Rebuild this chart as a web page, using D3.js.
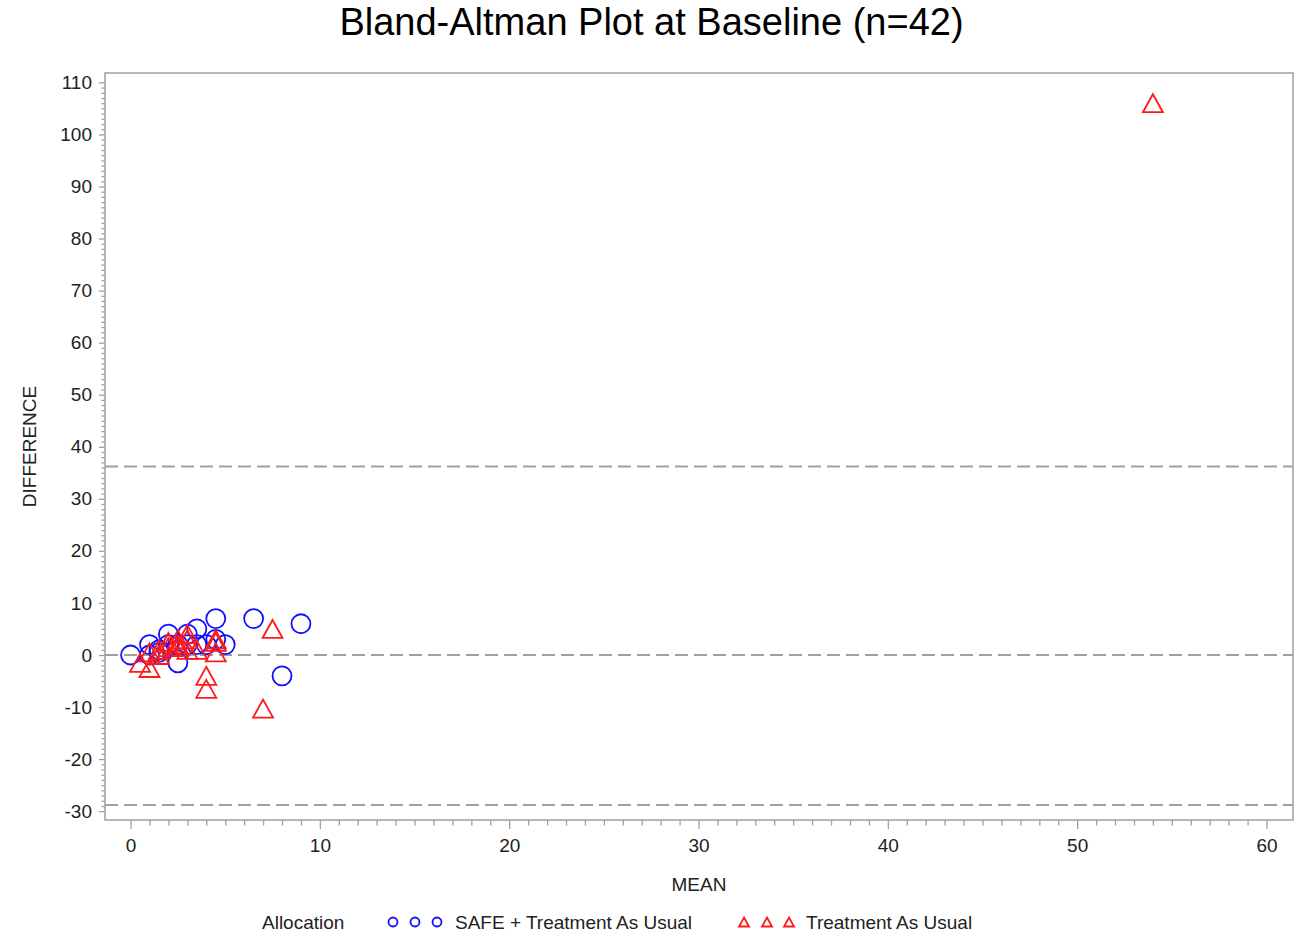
<!DOCTYPE html>
<html>
<head>
<meta charset="utf-8">
<title>Bland-Altman Plot at Baseline</title>
<script src="https://cdn.jsdelivr.net/npm/d3@7"></script>
<style>
  body { margin: 0; background: #fff; }
  svg { font-family: "Liberation Sans", Arial, sans-serif; }
</style>
</head>
<body>
<svg></svg>
<script>

// SAFE + Treatment As Usual (circles)
var safeMean = [0, 1, 1, 1.5, 1.5, 2, 2, 2.5, 2.5, 3, 3, 3.5, 3.5, 4, 4.5, 4.5, 5, 6.5, 8, 9];
var safeDiff = [0, 2, 0, 1, 0.5, 4, 2, -1.5, 2, 4, 2, 5, 2, 2, 7, 3, 2, 7, -4, 6];

// Treatment As Usual (triangles)
var tauMean = [0.5, 1, 1, 1.5, 1.5, 2, 2, 2.5, 2.5, 2.5, 3, 3, 3, 3.5, 4, 4, 4.5, 4.5, 4.5, 7, 7.5, 54];
var tauDiff = [-1.5, -2.5, 0.5, 0, 1, 1.5, 2.5, 1.5, 3, 2, 4, 3, 1, 1, -4, -6.5, 3, 2.5, 0.5, -10.3, 5, 106];

// reference lines (upper limit, zero, lower limit)
var refLines = [36.2, 0, -28.8];

var xTicks = [0, 10, 20, 30, 40, 50, 60];
var yTicks = [-30, -20, -10, 0, 10, 20, 30, 40, 50, 60, 70, 80, 90, 100, 110];

var width = 1303, height = 945;
var pLeft = 105, pRight = 1293, pTop = 73, pBottom = 820;
var blue = "#1010ff", red = "#ff1a1a", gray = "#a0a0a0";

var svg = d3.select("svg").attr("width", width).attr("height", height);

var x = d3.scaleLinear().domain([-1.35, 61.4]).range([pLeft, pRight]);
var y = d3.scaleLinear().domain([-31.7, 111.8]).range([pBottom, pTop]);

// title
svg.append("text")
  .attr("x", width / 2).attr("y", 35)
  .attr("text-anchor", "middle")
  .style("font-size", "38px")
  .style("fill", "#000")
  .text("Bland-Altman Plot at Baseline (n=42)");

// frame
svg.append("rect")
  .attr("x", pLeft).attr("y", pTop)
  .attr("width", pRight - pLeft).attr("height", pBottom - pTop)
  .attr("fill", "none").attr("stroke", gray).attr("stroke-width", 1.5);

// minor ticks every unit
var xMinor = d3.range(0, 61).filter(function(v){ return v % 10 != 0; });
var yMinor = d3.range(-30, 111).filter(function(v){ return v % 10 != 0; });

// plain hyphen for negatives, like the original
var fmt = function(d){ return String(d); };

var gxm = svg.append("g").attr("transform", "translate(0," + pBottom + ")")
  .call(d3.axisBottom(x).tickValues(xMinor).tickSize(5.5).tickFormat(""));
var gym = svg.append("g").attr("transform", "translate(" + pLeft + ",0)")
  .call(d3.axisLeft(y).tickValues(yMinor).tickSize(3.5).tickFormat(""));

var gx = svg.append("g").attr("transform", "translate(0," + pBottom + ")")
  .call(d3.axisBottom(x).tickValues(xTicks).tickSize(9).tickPadding(10).tickFormat(fmt));
var gy = svg.append("g").attr("transform", "translate(" + pLeft + ",0)")
  .call(d3.axisLeft(y).tickValues(yTicks).tickSize(6).tickPadding(7).tickFormat(fmt));

[gxm, gym, gx, gy].forEach(function(g){
  g.select(".domain").remove();
  g.selectAll(".tick line").attr("stroke", gray).attr("stroke-width", 1.3);
  g.selectAll(".tick text").style("font-size", "19px").style("fill", "#222").style("font-family", "Liberation Sans, Arial, sans-serif");
});

// axis labels
svg.append("text")
  .attr("x", (pLeft + pRight) / 2).attr("y", 891)
  .attr("text-anchor", "middle")
  .style("font-size", "19px").style("fill", "#222")
  .text("MEAN");

svg.append("text")
  .attr("transform", "translate(36," + (pTop + pBottom) / 2 + ") rotate(-90)")
  .attr("text-anchor", "middle")
  .style("font-size", "19px").style("fill", "#222")
  .text("DIFFERENCE");

// dashed reference lines
svg.selectAll(".ref")
  .data(refLines)
  .enter().append("line")
  .attr("class", "ref")
  .attr("x1", pLeft).attr("x2", pRight)
  .attr("y1", function(d){ return y(d); })
  .attr("y2", function(d){ return y(d); })
  .attr("stroke", gray).attr("stroke-width", 2)
  .attr("stroke-dasharray", "13,6");

function triPath(cx, cy, s) {
  var h = s * 0.9;
  return "M" + cx + "," + (cy - h / 2) + "L" + (cx + s / 2) + "," + (cy + h / 2) + "L" + (cx - s / 2) + "," + (cy + h / 2) + "Z";
}

var safePts = safeMean.map(function(m, i){ return {mean: m, diff: safeDiff[i]}; });
var tauPts = tauMean.map(function(m, i){ return {mean: m, diff: tauDiff[i]}; });

svg.selectAll(".safe")
  .data(safePts)
  .enter().append("circle")
  .attr("class", "safe")
  .attr("cx", function(d){ return x(d.mean); })
  .attr("cy", function(d){ return y(d.diff); })
  .attr("r", 9.5)
  .attr("fill", "none").attr("stroke", blue).attr("stroke-width", 1.8);

svg.selectAll(".tau")
  .data(tauPts)
  .enter().append("path")
  .attr("class", "tau")
  .attr("d", function(d){ return triPath(x(d.mean), y(d.diff), 20); })
  .attr("fill", "none").attr("stroke", red).attr("stroke-width", 1.8);

// legend
var ly = 922;
svg.append("text").attr("x", 262).attr("y", ly + 7)
  .style("font-size", "19px").style("fill", "#222").text("Allocation");

[393, 415, 437].forEach(function(cx){
  svg.append("circle").attr("cx", cx).attr("cy", ly).attr("r", 4.5)
    .attr("fill", "none").attr("stroke", blue).attr("stroke-width", 1.8);
});
svg.append("text").attr("x", 455).attr("y", ly + 7)
  .style("font-size", "19px").style("fill", "#222").text("SAFE + Treatment As Usual");

[744, 767, 789].forEach(function(cx){
  svg.append("path").attr("d", triPath(cx, ly, 10))
    .attr("fill", "none").attr("stroke", red).attr("stroke-width", 1.8);
});
svg.append("text").attr("x", 806).attr("y", ly + 7)
  .style("font-size", "19px").style("fill", "#222").text("Treatment As Usual");

</script>
</body>
</html>
